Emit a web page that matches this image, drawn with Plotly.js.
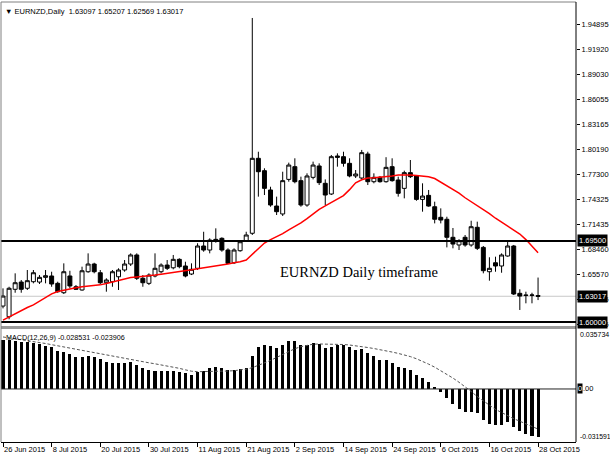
<!DOCTYPE html>
<html><head><meta charset="utf-8">
<script src="https://cdn.plot.ly/plotly-3.0.1.min.js"></script>
<style>html,body{margin:0;padding:0;background:#fff;}#chart{width:610px;height:457px;}</style>
</head><body><div id="chart"></div>
<script>
// ---- data ----
const tickText = ['26 Jun 2015','8 Jul 2015','20 Jul 2015','30 Jul 2015','11 Aug 2015','21 Aug 2015','2 Sep 2015','14 Sep 2015','24 Sep 2015','6 Oct 2015','16 Oct 2015','28 Oct 2015'];
const tickBar = [0,8,16,24,32,40,48,56,64,72,80,88];

const open = [1.6187,1.6062,1.6383,1.6468,1.6395,1.6472,1.6468,1.6523,1.6539,1.6453,
1.6343,1.6539,1.6413,1.6375,1.6589,1.6679,1.6577,1.6460,1.6472,1.6530,
1.6609,1.6679,1.6785,1.6512,1.6453,1.6539,1.6589,1.6667,1.6635,1.6734,
1.6656,1.6562,1.6629,1.6890,1.6843,1.6968,1.6980,1.6843,1.6694,1.6835,
1.6952,1.7039,1.7917,1.7772,1.7546,1.7358,1.7265,1.7670,1.7819,1.7655,
1.7370,1.7694,1.7827,1.7624,1.7499,1.7944,1.7936,1.7858,1.7710,1.7686,
1.7967,1.7643,1.7694,1.7643,1.7819,1.7663,1.7565,1.7749,1.7710,1.7436,
1.7483,1.7350,1.7226,1.7203,1.6992,1.6902,1.6992,1.6902,1.7109,1.6874,
1.6589,1.6694,1.6656,1.6773,1.6890,1.6336,1.6316,1.6312,1.63097];
const high = [1.6394,1.6413,1.6570,1.6492,1.6609,1.6609,1.6550,1.6609,1.6589,1.6472,
1.6687,1.6600,1.6433,1.6648,1.6804,1.6694,1.6609,1.6512,1.6609,1.6629,
1.6726,1.6804,1.6804,1.6550,1.6570,1.6804,1.6687,1.6726,1.6785,1.6746,
1.6706,1.6687,1.6922,1.7057,1.6980,1.7097,1.6992,1.6863,1.6863,1.6960,
1.7057,1.9560,1.7994,1.7800,1.7584,1.7468,1.7760,1.7866,1.7917,1.7702,
1.7741,1.7878,1.7858,1.7670,1.7956,1.7975,1.7994,1.7917,1.7780,1.8015,
1.7994,1.7741,1.7710,1.7930,1.7917,1.7702,1.7772,1.7897,1.7721,1.7624,
1.7546,1.7409,1.7331,1.7233,1.7101,1.6970,1.7019,1.7186,1.7175,1.6890,
1.6758,1.6765,1.6804,1.6960,1.6902,1.6383,1.6355,1.6343,1.65207];
const low = [1.6160,1.6032,1.6343,1.6343,1.6375,1.6453,1.6445,1.6453,1.6413,1.6343,
1.6328,1.6395,1.6375,1.6367,1.6577,1.6570,1.6445,1.6355,1.6413,1.6375,
1.6589,1.6656,1.6492,1.6413,1.6433,1.6523,1.6570,1.6609,1.6617,1.6629,
1.6523,1.6550,1.6609,1.6823,1.6804,1.6929,1.6823,1.6679,1.6679,1.6823,
1.6941,1.7019,1.7468,1.7487,1.7350,1.7253,1.7241,1.7643,1.7624,1.7350,
1.7350,1.7670,1.7604,1.7370,1.7487,1.7819,1.7819,1.7694,1.7686,1.7670,
1.7604,1.7624,1.7632,1.7632,1.7643,1.7468,1.7448,1.7686,1.7420,1.7292,
1.7350,1.7155,1.7155,1.6874,1.6863,1.6843,1.6882,1.6882,1.6843,1.6570,
1.6484,1.6589,1.6577,1.6765,1.6316,1.6141,1.6219,1.6219,1.62569];
const close = [1.6304,1.6395,1.6460,1.6383,1.6484,1.6577,1.6523,1.6542,1.6445,1.6355,
1.6589,1.6422,1.6383,1.6600,1.6679,1.6589,1.6460,1.6492,1.6589,1.6609,
1.6679,1.6785,1.6512,1.6460,1.6550,1.6629,1.6667,1.6629,1.6734,1.6648,
1.6539,1.6617,1.6890,1.6843,1.6960,1.6952,1.6843,1.6687,1.6843,1.6940,
1.7019,1.7917,1.7760,1.7565,1.7370,1.7292,1.7655,1.7838,1.7643,1.7370,
1.7710,1.7838,1.7632,1.7487,1.7936,1.7928,1.7858,1.7710,1.7733,1.7983,
1.7643,1.7694,1.7643,1.7811,1.7655,1.7507,1.7749,1.7702,1.7436,1.7475,
1.7358,1.7203,1.7194,1.6992,1.6913,1.6952,1.6902,1.7116,1.6863,1.6601,
1.6629,1.6656,1.6785,1.6890,1.6328,1.6304,1.6312,1.6316,1.63017];
const movingAvg = [1.6023,1.6060,1.6100,1.6135,1.6170,1.6200,1.6240,1.6290,1.6330,1.6358,
1.6375,1.6390,1.6400,1.6413,1.6420,1.6428,1.6435,1.6450,1.6468,1.6490,
1.6510,1.6520,1.6528,1.6533,1.6540,1.6550,1.6560,1.6570,1.6578,1.6586,
1.6600,1.6612,1.6625,1.6635,1.6645,1.6655,1.6665,1.6680,1.6695,1.6706,
1.6726,1.6790,1.6860,1.6925,1.6965,1.7000,1.7035,1.7080,1.7120,1.7160,
1.7210,1.7270,1.7320,1.7360,1.7400,1.7440,1.7480,1.7550,1.7630,1.7665,
1.7685,1.7690,1.7695,1.7700,1.7710,1.7720,1.7722,1.7720,1.7715,1.7708,
1.7700,1.7680,1.7640,1.7600,1.7555,1.7510,1.7455,1.7410,1.7360,1.7320,
1.7270,1.7215,1.7170,1.7130,1.7080,1.7030,1.6965,1.6890,1.6810];
const macdHist = [0.0294,0.0294,0.0288,0.0278,0.0278,0.0274,0.0268,0.0258,0.0248,0.0228,
0.0222,0.0209,0.0193,0.0193,0.0197,0.0189,0.0179,0.0163,0.0155,0.0153,
0.0153,0.0159,0.0143,0.0123,0.0113,0.0109,0.0109,0.0109,0.0109,0.0103,
0.0093,0.0085,0.0099,0.0105,0.0123,0.0129,0.0123,0.0113,0.0113,0.0117,
0.0123,0.0199,0.0248,0.0262,0.0258,0.0244,0.0264,0.0288,0.0288,0.0264,
0.0264,0.0274,0.0268,0.0244,0.0252,0.0264,0.0264,0.0248,0.0232,0.0238,
0.0213,0.0195,0.0173,0.0173,0.0153,0.0129,0.0123,0.0113,0.0085,0.0064,
0.0044,0.0014,-0.0020,-0.0054,-0.0089,-0.0119,-0.0139,-0.0139,-0.0145,-0.0185,
-0.0209,-0.0213,-0.0213,-0.0199,-0.0228,-0.0252,-0.0268,-0.0278,-0.028531];
const macdSignal = [0.0310,0.0305,0.0299,0.0294,0.0289,0.0284,0.0277,0.0271,0.0264,0.0257,
0.0250,0.0243,0.0236,0.0229,0.0222,0.0215,0.0209,0.0202,0.0195,0.0188,
0.0181,0.0175,0.0168,0.0162,0.0156,0.0150,0.0144,0.0138,0.0131,0.0123,
0.0114,0.0106,0.0103,0.0103,0.0104,0.0105,0.0106,0.0107,0.0109,0.0112,
0.0118,0.0127,0.0140,0.0155,0.0170,0.0188,0.0207,0.0224,0.0240,0.0252,
0.0261,0.0267,0.0268,0.0268,0.0267,0.0266,0.0265,0.0262,0.0258,0.0253,
0.0247,0.0241,0.0235,0.0228,0.0220,0.0212,0.0203,0.0193,0.0180,0.0165,
0.0148,0.0130,0.0110,0.0088,0.0065,0.0040,0.0015,-0.0015,-0.0045,-0.0072,
-0.0098,-0.0122,-0.0140,-0.0160,-0.0177,-0.0192,-0.0209,-0.0226,-0.023906];
const priceTicks = [1.94895,1.91920,1.89030,1.86055,1.83165,1.80190,1.77300,1.74325,1.71435,1.68460,1.65570,1.62595,1.59705];
const levelLines = [1.69500, 1.60000];
const lastPrice = 1.63017;
const macdMax = 0.035734, macdMin = -0.031591;
const headerText = '\u25BC EURNZD,Daily\u00a0\u00a01.63097 1.65207 1.62569 1.63017';
const macdText = 'MACD(12,26,9) -0.028531 -0.023906';
const noteText = 'EURNZD Daily timeframe';

// ---- chart ----
const bars = open.map((_, i) => i);
const traces = [
  {type:'candlestick', x:bars, open:open, high:high, low:low, close:close, xaxis:'x', yaxis:'y',
   increasing:{line:{color:'#000', width:1}, fillcolor:'#fff'},
   decreasing:{line:{color:'#000', width:1}, fillcolor:'#000'},
   whiskerwidth:0, hoverinfo:'skip'},
  {type:'scatter', mode:'lines', x:bars, y:movingAvg, xaxis:'x', yaxis:'y',
   line:{color:'#ff0000', width:1.5}, hoverinfo:'skip'},
  {type:'bar', x:bars, y:macdHist, xaxis:'x', yaxis:'y2', width:0.5,
   marker:{color:'#000', line:{width:0}}, hoverinfo:'skip'},
  {type:'scatter', mode:'lines', x:bars, y:macdSignal, xaxis:'x', yaxis:'y2',
   line:{color:'#555', width:1, dash:'3px,2px'}, hoverinfo:'skip'}
];

const mainDom = [0.2636, 1], macdDom = [0, 0.2568];
const shapes = [];
levelLines.forEach(v => shapes.push({type:'line', xref:'paper', x0:0, x1:1, yref:'y', y0:v, y1:v, line:{color:'#000', width:2}}));
shapes.push({type:'line', xref:'paper', x0:0, x1:1, yref:'y', y0:lastPrice, y1:lastPrice, line:{color:'#c8c8c8', width:1}, layer:'below'});
shapes.push({type:'line', xref:'paper', x0:0, x1:1, yref:'y2', y0:0, y1:0, line:{color:'#222', width:1}});
shapes.push({type:'rect', xref:'paper', x0:0, x1:1, yref:'paper', y0:macdDom[1], y1:mainDom[0], fillcolor:'#9a9a9a', line:{width:0}});
shapes.push({type:'line', xref:'paper', x0:0, x1:1, yref:'paper', y0:1, y1:1, line:{color:'#808080', width:1}});
shapes.push({type:'line', xref:'paper', x0:0, x1:0, yref:'paper', y0:0, y1:1, line:{color:'#808080', width:1}});
shapes.push({type:'line', xref:'paper', x0:1, x1:1, yref:'paper', y0:0, y1:1, line:{color:'#000', width:1}});

const lblFont = {family:'Liberation Sans, Arial, sans-serif', size:7.5, color:'#000'};
const annotations = [
  {xref:'paper', x:0.004, xanchor:'left', yref:'paper', y:1, yanchor:'top', yshift:-3, text:headerText, showarrow:false, font:{family:'Liberation Sans, Arial, sans-serif', size:7.5, color:'#000'}},
  {xref:'paper', x:0.006, xanchor:'left', yref:'paper', y:macdDom[1], yanchor:'top', yshift:-2, text:macdText, showarrow:false, font:{family:'Liberation Sans, Arial, sans-serif', size:7.2, color:'#000'}},
  {xref:'x', x:45.2, xanchor:'left', yref:'y', y:1.6585, yanchor:'middle', text:noteText, showarrow:false, font:{family:'Liberation Serif, Times New Roman, serif', size:14.5, color:'#000'}},
  {xref:'paper', x:1, xanchor:'left', xshift:2, yref:'y2', y:macdMax, yanchor:'top', text:'0.035734', showarrow:false, font:{family:lblFont.family, size:7, color:'#000'}},
  {xref:'paper', x:1, xanchor:'left', xshift:2, yref:'y2', y:macdMin, yanchor:'bottom', text:'-0.031591', showarrow:false, font:{family:lblFont.family, size:6.8, color:'#000'}},
  {xref:'paper', x:1, xanchor:'left', xshift:1, yref:'y2', y:0, yanchor:'middle', text:'0', bgcolor:'#000', borderpad:0, showarrow:false, font:{family:lblFont.family, size:7.5, color:'#fff'}},
  {xref:'paper', x:1, xanchor:'left', xshift:5, yref:'y2', y:0, yanchor:'middle', text:'.00', showarrow:false, font:lblFont}
];
levelLines.concat([lastPrice]).forEach(v => annotations.push({
  xref:'paper', x:1, xanchor:'left', xshift:1, yref:'y', y:v, yanchor:'middle',
  text:v.toFixed(5), bgcolor:'#000', borderpad:1, showarrow:false,
  font:{family:lblFont.family, size:7.5, color:'#fff'}}));

const layout = {
  width:610, height:457,
  margin:{l:1, r:34, t:2, b:15, pad:0},
  paper_bgcolor:'#fff', plot_bgcolor:'#fff',
  showlegend:false, boxgap:0.35, boxgroupgap:0, bargap:0,
  font:lblFont,
  xaxis:{range:[-0.329, 94.24], anchor:'y2', tickmode:'array', tickvals:tickBar, ticktext:tickText,
    tickangle:0, ticks:'outside', ticklen:4, tickcolor:'#000', showline:true, linecolor:'#000', linewidth:1,
    showgrid:false, zeroline:false, ticklabelposition:'outside right', rangeslider:{visible:false},
    tickfont:lblFont, fixedrange:true, automargin:false},
  yaxis:{domain:mainDom, range:[1.59532, 1.97471], side:'right', anchor:'x', tickmode:'array',
    tickvals:priceTicks, ticktext:priceTicks.map(v => v.toFixed(5)), ticks:'outside', ticklen:3,
    tickcolor:'#000', showline:false, showgrid:false, zeroline:false, tickfont:lblFont, fixedrange:true, automargin:false},
  yaxis2:{domain:macdDom, range:[macdMin, macdMax], side:'right', anchor:'x', showticklabels:false,
    ticks:'', showline:false, showgrid:false, zeroline:false, fixedrange:true},
  shapes:shapes, annotations:annotations
};
Plotly.newPlot('chart', traces, layout, {staticPlot:true, displayModeBar:false});
</script></body></html>
